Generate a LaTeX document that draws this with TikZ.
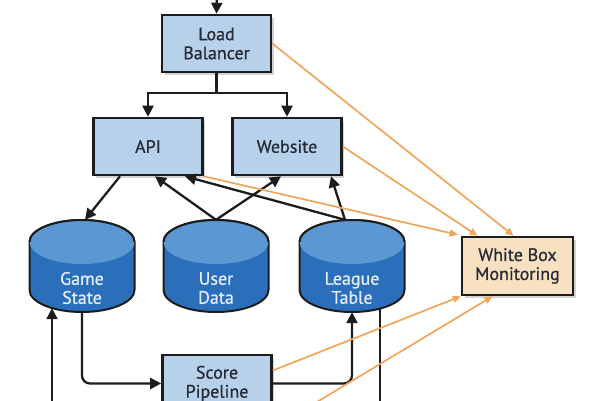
\documentclass[tikz,border=0pt]{standalone}
\usepackage{fontspec}
\setmainfont{PT Sans}
\newfontfamily\boxfont[FakeBold=0.7]{PT Sans}
\usetikzlibrary{arrows.meta,calc,shadows}
\definecolor{boxblue}{HTML}{B7D1EA}
\definecolor{wbmfill}{HTML}{F7E1C2}
\definecolor{cylbody}{HTML}{2B6FBA}
\definecolor{cyltop}{HTML}{5B98D3}
\definecolor{cyltxt}{HTML}{E3EEF9}
\definecolor{linec}{HTML}{1C1C1C}
\definecolor{textc}{HTML}{262A34}
\definecolor{orangec}{HTML}{EFA55A}
\newcommand\dbcyl[4]{%
  \path[fill=cylbody, draw=linec, line width=2pt]
    (#2-52.5,242) -- (#2-52.5,290)
    arc[start angle=180,end angle=0,x radius=52.5,y radius=22]
    -- (#2+52.5,242)
    arc[start angle=0,end angle=-180,x radius=52.5,y radius=22] -- cycle;
  \fill[cyltop] (#2,242) ellipse[x radius=52.5, y radius=22];
  \draw[draw=linec, line width=2pt] (#2+52.5,242)
    arc[start angle=0,end angle=-180,x radius=52.5,y radius=22];
  \node[cylshape] (#1) at (#2,266) {};
  \node[cyltext] (#1t) at (#2,288) {#3\\#4};
}
\begin{document}
\begin{tikzpicture}[x=1pt,y=-1pt,
  box/.style={draw=linec, line width=2.6pt, fill=boxblue, minimum width=109pt,
    minimum height=57pt, text=textc, align=center, inner sep=0pt,
    font=\boxfont\fontsize{18}{19}\selectfont,
    drop shadow={shadow xshift=2.5pt, shadow yshift=-2.5pt, opacity=0.35}},
  cylshape/.style={rectangle, minimum width=105pt, minimum height=92pt, inner sep=0pt},
  cyltext/.style={text=cyltxt, align=center, font=\boxfont\fontsize{18}{19}\selectfont},
  arr/.style={draw=linec, line width=2.3pt, -{Triangle[length=11pt,width=11pt]}},
  plain/.style={draw=linec, line width=2.3pt},
  oarr/.style={draw=orangec, line width=1.7pt, -{Triangle[length=8pt,width=7pt]}}]
\useasboundingbox (0,0) rectangle (600,400);
\clip (0,0) rectangle (600,400);

% boxes
\node[box] (lb) at (216.5,43.5) {Load\\Balancer};
\node[box] (api) at (148,146.5) {API};
\node[box] (web) at (287,146.5) {Website};
\node[box, fill=wbmfill, minimum width=111pt, minimum height=58pt] (wbm) at (517.5,266) {White Box\\Monitoring};
\node[box] (sp) at (217,383.5) {Score\\Pipeline};

% databases
\dbcyl{gs}{82}{Game}{State}
\dbcyl{ud}{216}{User}{Data}
\dbcyl{lt}{352}{League}{Table}

% free ends
\coordinate (topin) at (217,-5);
\coordinate (gsin) at (52,420);
\coordinate (ltout) at (380,420);
\coordinate (offbb) at (287,420);

% black connectors
\draw[arr] (topin) -- (lb.north);
\draw[arr] (lb.south) -- ++(0,20) -| (api.north);
\draw[arr] (lb.south) -- ++(0,20) -| (web.north);
\draw[arr] ([xshift=-28pt]api.south) -- ([xshift=3pt]gs.north);
\draw[arr] (ud.north) -- ([xshift=7pt]api.south);
\draw[arr] (ud.north) -- ([xshift=-6pt]web.south);
\draw[arr] ([xshift=-7pt]lt.north) -- ([xshift=37pt]api.south);
\draw[arr] ([xshift=-7pt]lt.north) -- ([xshift=44pt]web.south);
\draw[arr, rounded corners=8pt] (gs.south) |- (sp.west);
\draw[arr, rounded corners=8pt] (sp.east) -| (lt.south);
\draw[arr] (gsin) -- ($(gs.south)+(-30,-4)$);
\draw[plain] ($(lt.south)+(28,-4)$) -- (ltout);

% orange connectors
\draw[oarr] (lb.east) -- ([xshift=-4pt]wbm.north);
\draw[oarr] (web.east) -- ([xshift=-40pt]wbm.north);
\draw[oarr] (api.south east) -- ([xshift=-3pt,yshift=1pt]wbm.north west);
\draw[oarr] ([yshift=13pt]sp.east) -- (wbm.south west);
\draw[oarr] (offbb) -- ([xshift=-25pt]wbm.south);
\end{tikzpicture}
\end{document}
